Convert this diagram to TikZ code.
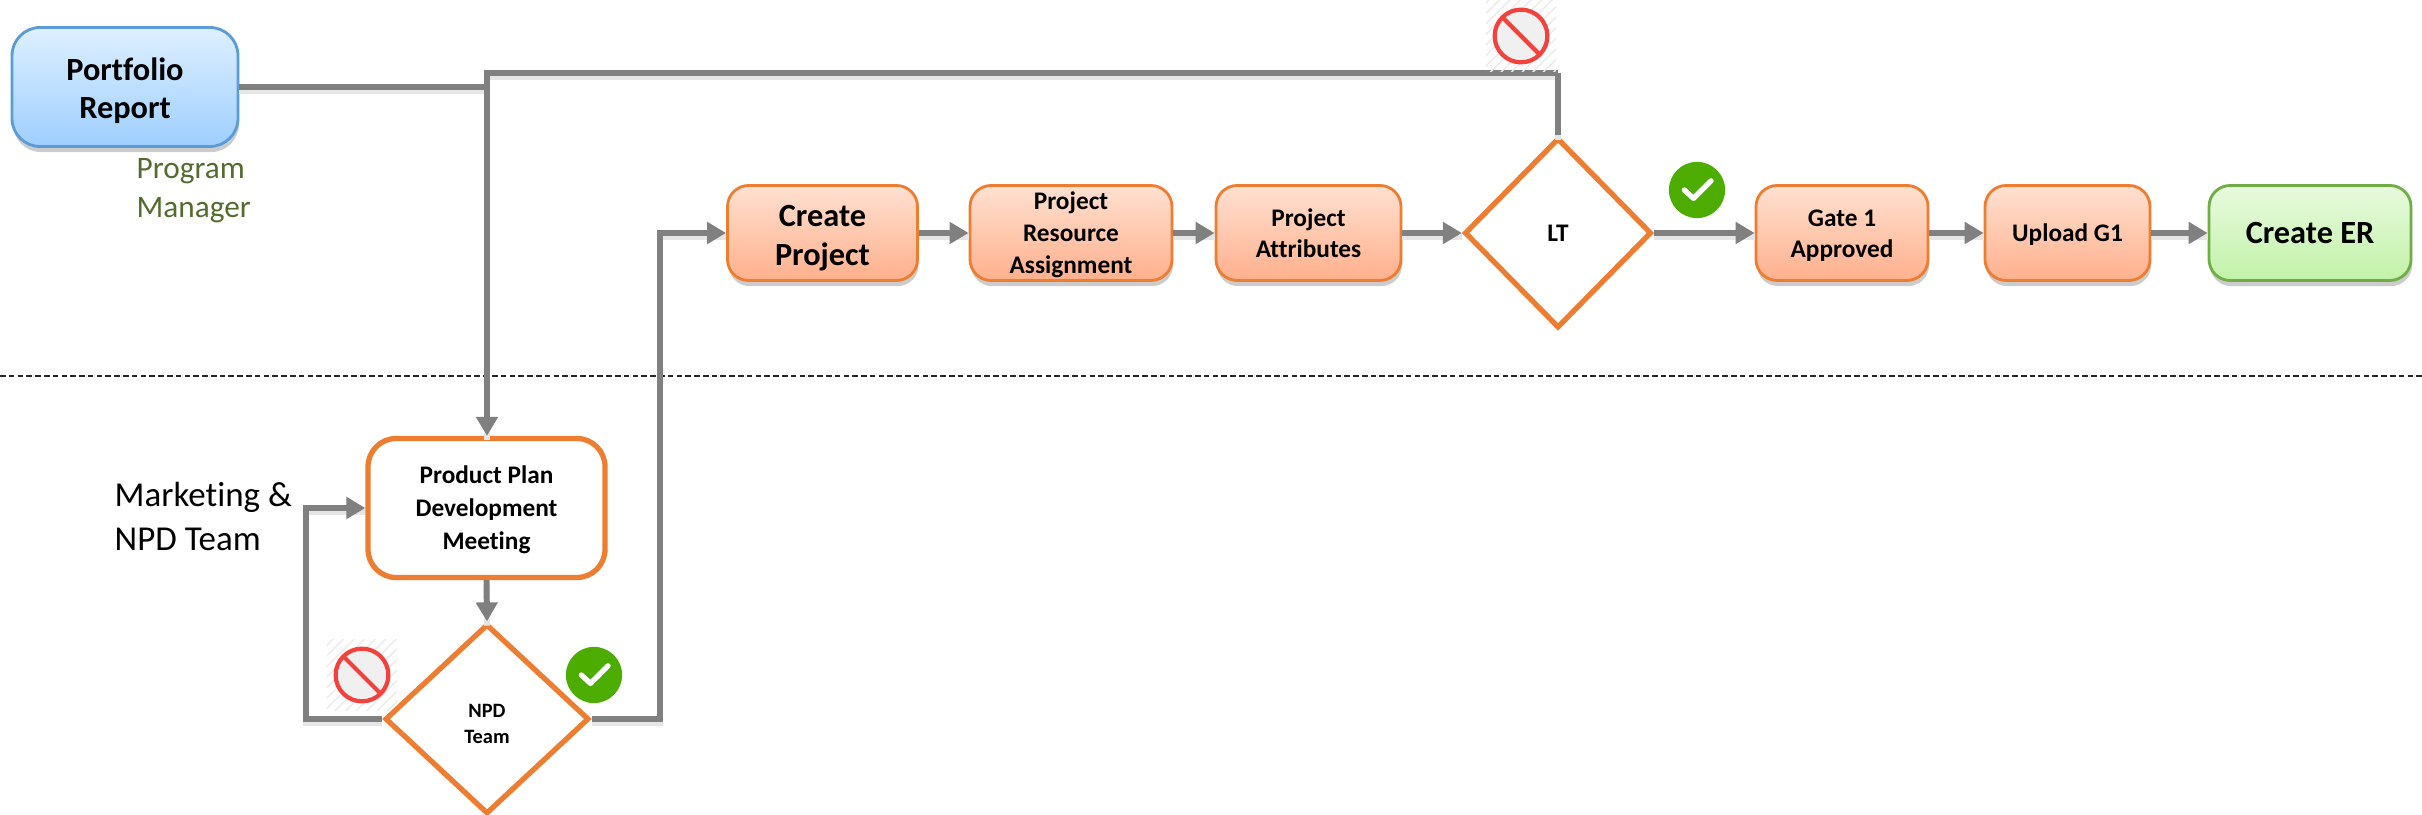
\documentclass[tikz,border=0pt]{standalone}
\usepackage{fontspec}
\setmainfont{Carlito}[Ligatures=CommonOff]
\usetikzlibrary{arrows.meta}
\usetikzlibrary{shapes.geometric}
\usetikzlibrary{shadows}
\usetikzlibrary{patterns}
\definecolor{BoxOrange}{rgb}{0.93, 0.49, 0.19}
\definecolor{OrangeTop}{rgb}{1.0, 0.88, 0.82}
\definecolor{OrangeLow}{rgb}{1.0, 0.69, 0.55}
\definecolor{BoxBlue}{rgb}{0.36, 0.61, 0.84}
\definecolor{BlueTop}{rgb}{0.87, 0.94, 1.0}
\definecolor{BlueLow}{rgb}{0.62, 0.81, 1.0}
\definecolor{BoxGreen}{rgb}{0.44, 0.68, 0.28}
\definecolor{GreenTop}{rgb}{0.91, 0.98, 0.87}
\definecolor{GreenLow}{rgb}{0.76, 0.95, 0.66}
\definecolor{ManagerGreen}{rgb}{0.33, 0.42, 0.18}
\definecolor{StopRed}{rgb}{0.95, 0.26, 0.24}
\definecolor{CheckGreen}{rgb}{0.30, 0.68, 0.0}
\tikzset{
  softshadow/.style={drop shadow={shadow xshift=0.3pt,shadow yshift=-1.6pt,fill=black,opacity=.2}},
  lowtext/.style={execute at begin node={\rule{0pt}{#1}}},
  flowbox/.style={rounded corners=6pt,draw=BoxOrange,line width=.8pt,top color=OrangeTop,bottom color=OrangeLow,softshadow,align=center,font=\bfseries,inner sep=0pt},
  reportbox/.style={flowbox,rounded corners=8pt,draw=BoxBlue,top color=BlueTop,bottom color=BlueLow},
  endbox/.style={flowbox,draw=BoxGreen,top color=GreenTop,bottom color=GreenLow},
  meetbox/.style={rounded corners=8pt,draw=BoxOrange,line width=1.5pt,fill=white,align=center,font=\bfseries,inner sep=0pt},
  gate/.style={diamond,draw=BoxOrange,line width=1.5pt,fill=white,align=center,font=\bfseries,inner sep=0pt},
  link/.style={draw=black!50,line width=1.7pt,-{Triangle[length=5.4pt,width=6pt]},
    preaction={draw=black!10,line width=1.7pt,transform canvas={yshift=-1.2pt},arrows={-}}},
  plainlink/.style={link,arrows={-}},
  stopicon/.style={circle,draw=StopRed,line width=1.2pt,fill=black!6,minimum size=15pt,inner sep=0pt,
    path picture={\draw[StopRed,line width=1.2pt] (path picture bounding box.north west)--(path picture bounding box.south east);}},
  stophatch/.style={pattern=north east lines,pattern color=black!8,minimum size=20pt,inner sep=0pt},
  checkicon/.style={circle,fill=CheckGreen,minimum size=16pt,inner sep=0pt,
    path picture={\draw[white,line width=1.5pt,line cap=round,line join=round] ([shift={(-3.6pt,0pt)}]path picture bounding box.center)--++(2.6pt,-2.4pt)--++(5pt,5pt);}}
}
\begin{document}
\begin{tikzpicture}
\useasboundingbox (0,0) rectangle (24.22,8.14);
\draw[black!85,dash pattern=on 1.6pt off .9pt,line width=.45pt] (0,4.38)--(24.22,4.38);
% top row
\node[reportbox,lowtext=19.6pt,minimum width=2.26cm,minimum height=1.19cm,font=\bfseries\fontsize{9.2}{11}\selectfont] (report) at (1.25,7.27) {Portfolio\\Report};
\node[flowbox,lowtext=19.8pt,minimum width=1.9cm,minimum height=.95cm,font=\bfseries\fontsize{9.2}{11}\selectfont] (create) at (8.225,5.81) {Create\\Project};
\node[flowbox,lowtext=24.5pt,minimum width=2.02cm,minimum height=.95cm,font=\bfseries\fontsize{7.2}{9.1}\selectfont] (resource) at (10.71,5.81) {Project\\Resource\\Assignment};
\node[flowbox,minimum width=1.85cm,minimum height=.95cm,font=\bfseries\fontsize{7.2}{8.9}\selectfont] (attrib) at (13.085,5.81) {Project\\Attributes};
\node[gate,minimum width=1.87cm,minimum height=1.9cm,font=\bfseries\fontsize{7.2}{8.9}\selectfont] (lt) at (15.58,5.81) {LT};
\node[flowbox,lowtext=15.2pt,minimum width=1.72cm,minimum height=.95cm,font=\bfseries\fontsize{7.2}{8.9}\selectfont] (gate1) at (18.42,5.81) {Gate 1\\Approved};
\node[flowbox,lowtext=6.2pt,minimum width=1.65cm,minimum height=.95cm,font=\bfseries\fontsize{7.2}{8.9}\selectfont] (upload) at (20.675,5.81) {Upload G1};
\node[endbox,minimum width=2.02cm,minimum height=.95cm,font=\bfseries\fontsize{9.2}{11}\selectfont] (er) at (23.1,5.81) {Create ER};
% bottom part
\node[meetbox,lowtext=24.8pt,minimum width=2.37cm,minimum height=1.39cm,font=\bfseries\fontsize{7.2}{9.4}\selectfont] (meeting) at (4.865,3.06) {Product Plan\\Development\\Meeting};
\node[gate,lowtext=14.1pt,minimum width=2.04cm,minimum height=1.9cm,font=\bfseries\fontsize{5.8}{7.4}\selectfont] (npd) at (4.87,.95) {NPD\\Team};
% labels
\node[text=ManagerGreen,align=left,anchor=north west,inner sep=0pt,font=\fontsize{8.9}{11}\selectfont] (manager) at (1.36,6.56) {Program\\Manager};
\node[align=left,anchor=north west,inner sep=0pt,font=\fontsize{9.95}{12.4}\selectfont] (team) at (1.14,3.32) {Marketing \&\\NPD Team};
% helpers
\coordinate (join) at (meeting.north |- report.east);
\coordinate (topleft) at (4.87,7.41);
\coordinate (topright) at (lt.north |- topleft);
\coordinate (loopleft) at (3.06,0 |- npd.west);
\coordinate (riseright) at (6.6,0 |- npd.east);
% connectors
\draw[plainlink] (report.east)--(join);
\draw[link] (topright)--(topleft)--(topleft |- meeting.north);
\draw[plainlink] (lt.north)--(topright);
\draw[link] (npd.west)--(loopleft)--(loopleft |- meeting.west)--(meeting.west);
\draw[link] (npd.east)--(riseright)--(riseright |- create.west)--(create.west);
\draw[link] (meeting.south)--(npd.north);
\draw[link] (create)--(resource);
\draw[link] (resource)--(attrib);
\draw[link] (attrib)--(lt);
\draw[link] (lt)--(gate1);
\draw[link] (gate1)--(upload);
\draw[link] (upload)--(er);
% icons
\node[stophatch] (hatchlt) at (15.21,7.78) {};
\node[stopicon] (stoplt) at (15.21,7.78) {};
\node[checkicon] (oklt) at (16.97,6.24) {};
\node[stophatch] (hatchnpd) at (3.62,1.39) {};
\node[stopicon] (stopnpd) at (3.62,1.39) {};
\node[checkicon] (oknpd) at (5.94,1.39) {};
\end{tikzpicture}
\end{document}
